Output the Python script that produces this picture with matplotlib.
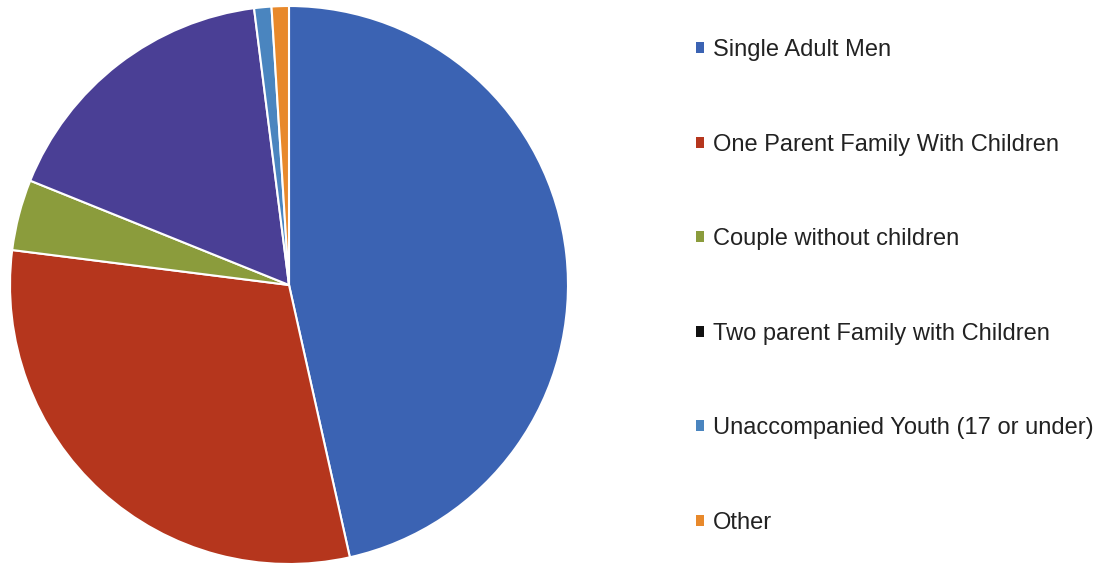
import matplotlib.pyplot as plt
from matplotlib.patches import Patch

plt.rcParams['font.family'] = ['Liberation Sans', 'DejaVu Sans']

# Household types and their share (%)
groups = ['Single Adult Men', 'One Parent Family With Children', 'Couple without children',
          'Two parent Family with Children', 'Unaccompanied Youth (17 or under)', 'Other']
shares = [46.5, 30.5, 4.1, 16.9, 1.0, 1.0]
colors = ['#3b63b3', '#b5361d', '#8b9c3c', '#4a3f95', '#4a85bf', '#e8892b']
legend_colors = ['#3b63b3', '#b5361d', '#8b9c3c', '#111111', '#4a85bf', '#e8892b']

fig = plt.figure(figsize=(11.06, 5.64), dpi=100)
ax = fig.add_axes([10 / 1106, 0, 558 / 1106, 558 / 564])
ax.pie(shares, colors=colors, startangle=90, counterclock=False,
       wedgeprops=dict(edgecolor='white', linewidth=1.5))
ax.set_xlim(-1, 1)
ax.set_ylim(-1, 1)
ax.set_aspect('equal')

handles = [Patch(facecolor=c, edgecolor='none') for c in legend_colors]
fig.legend(handles, groups, loc='upper left', bbox_to_anchor=(675 / 1106, 1 - 18 / 564),
           frameon=False, fontsize=17, handlelength=0.34, handleheight=0.34,
           handletextpad=0.35, labelspacing=3.07, labelcolor='#222222')

fig.savefig('out.png', dpi=100)
